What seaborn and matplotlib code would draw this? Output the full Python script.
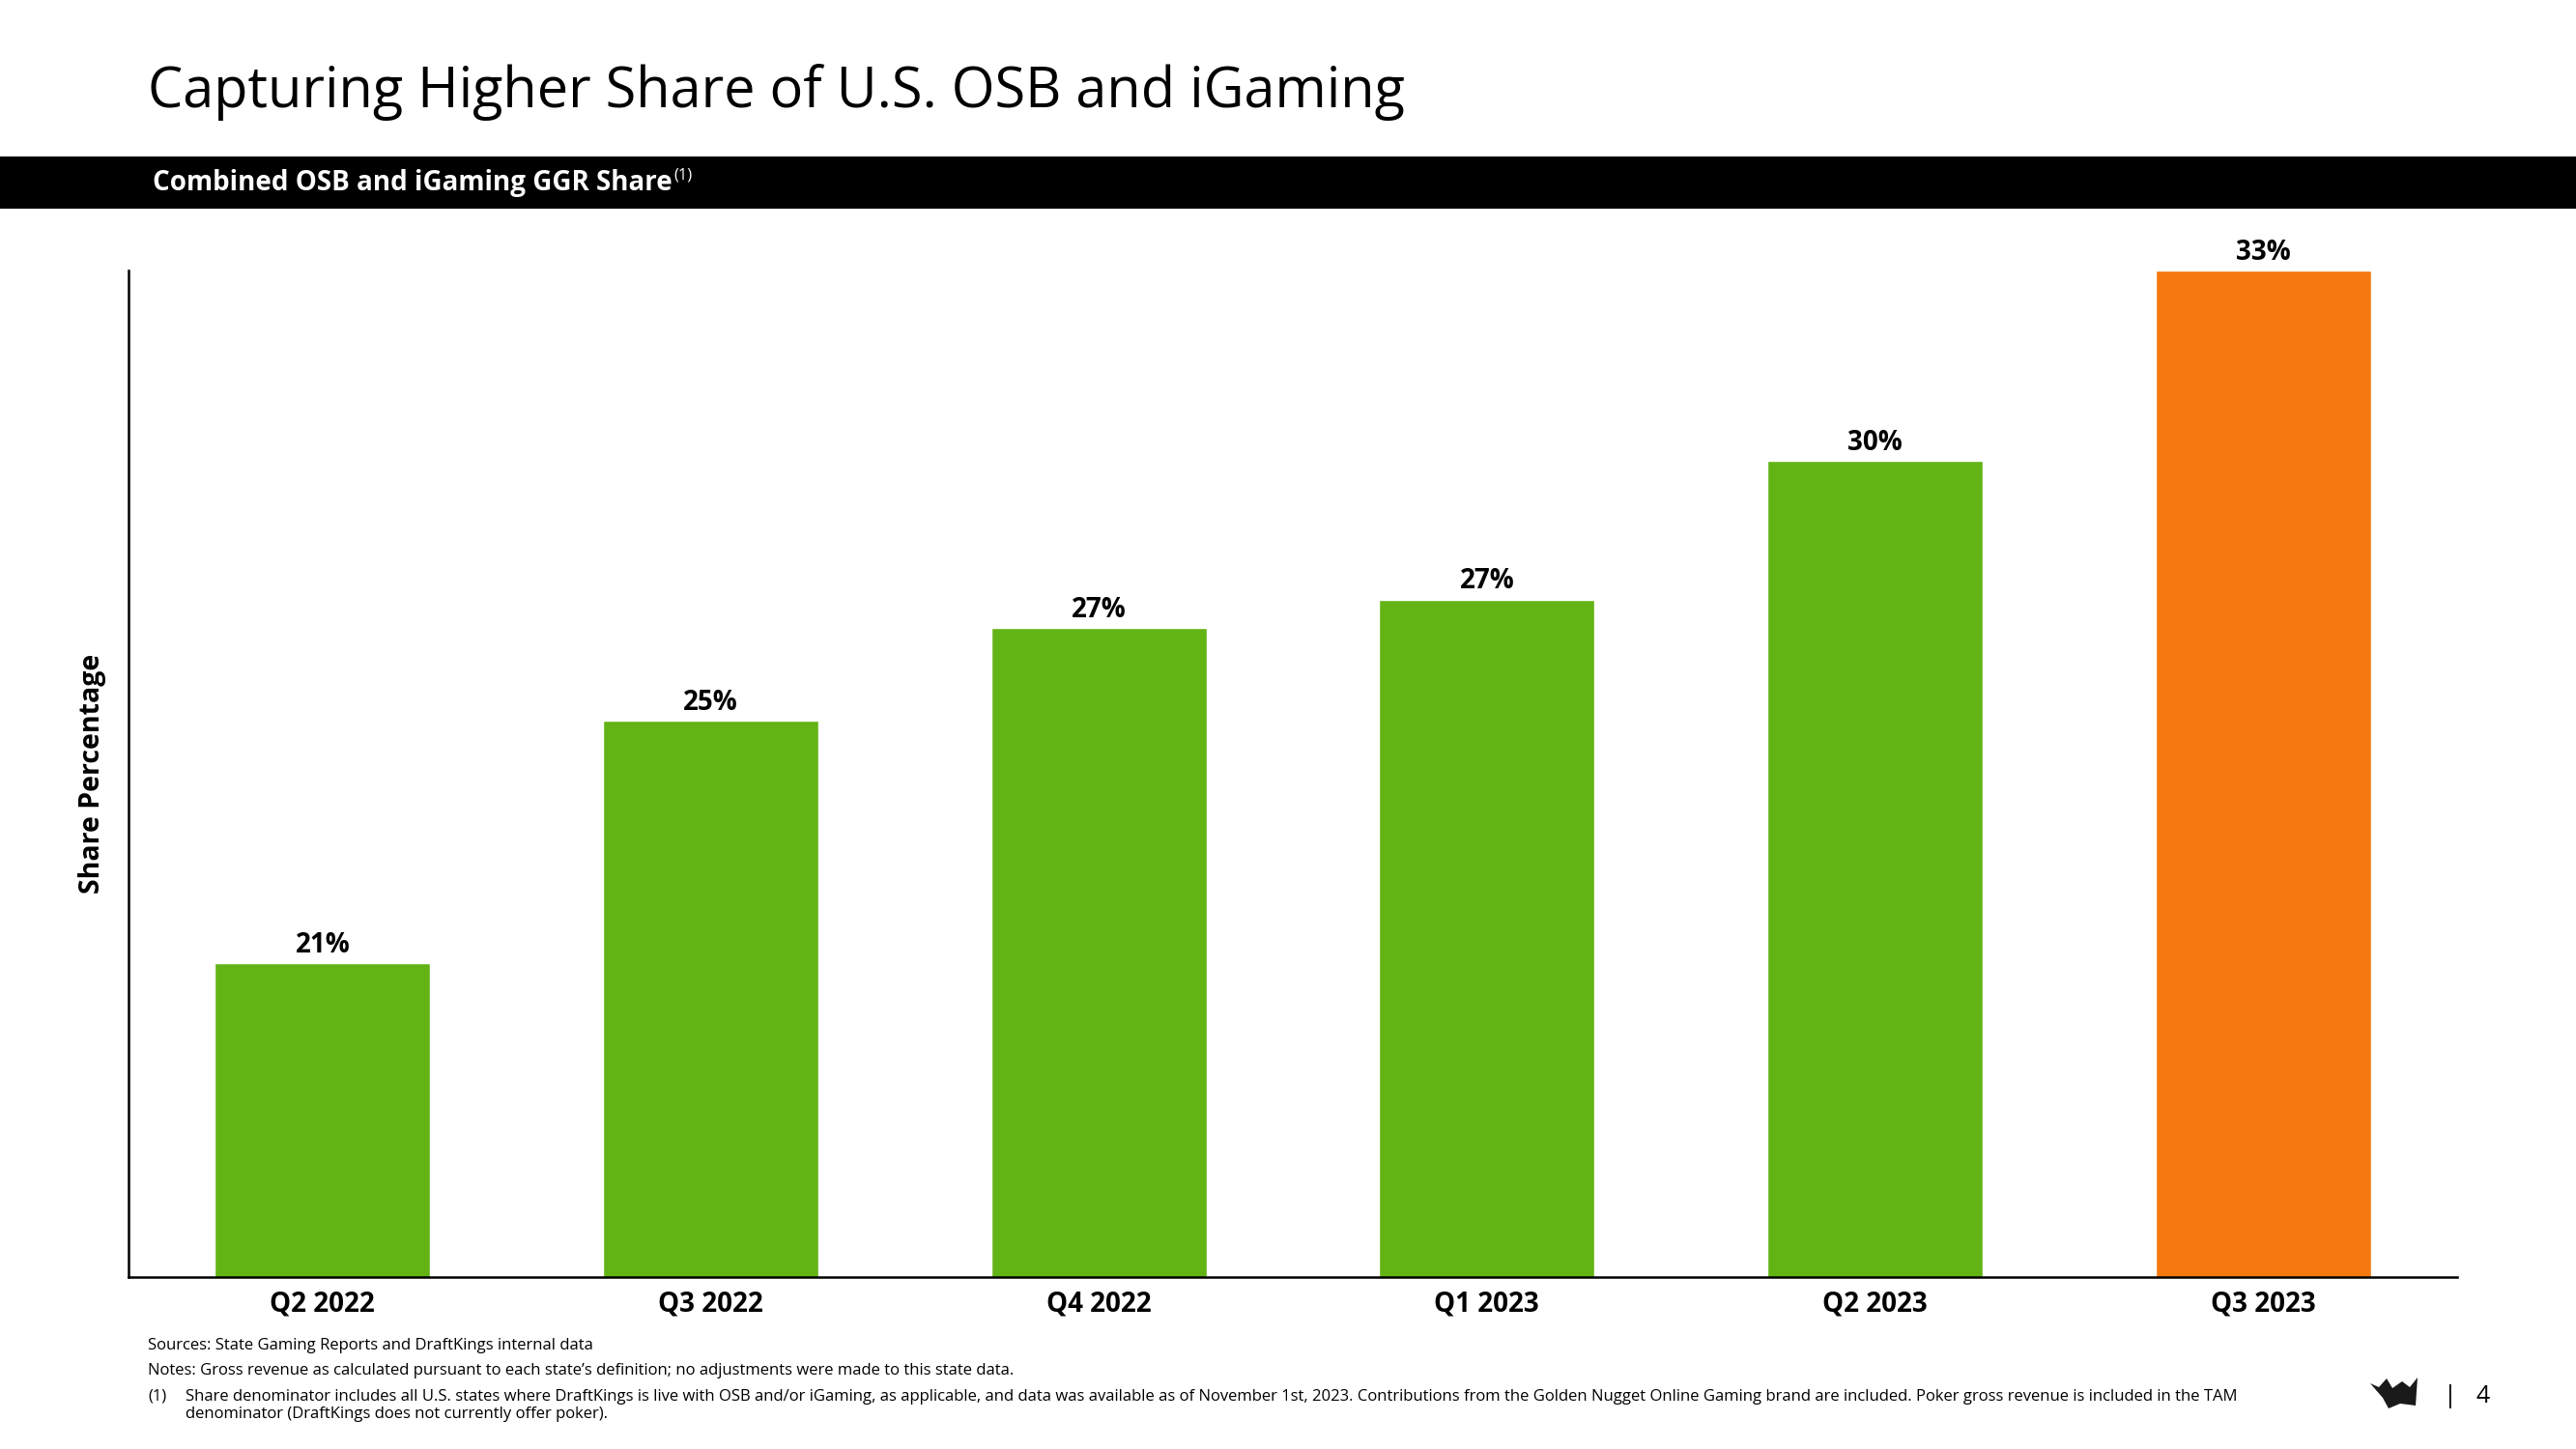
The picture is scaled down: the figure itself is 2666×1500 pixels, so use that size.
import matplotlib
matplotlib.use("Agg")
import matplotlib.pyplot as plt
import seaborn as sns
from matplotlib.patches import Rectangle, Polygon

# ---- data ----
categories = ["Q2 2022", "Q3 2022", "Q4 2022", "Q1 2023", "Q2 2023", "Q3 2023"]
share_values = [21.0, 25.2, 26.8, 27.3, 29.7, 33.0]
bar_colors = ["#62B415", "#62B415", "#62B415", "#62B415", "#62B415", "#F5790F"]

title_text = "Capturing Higher Share of U.S. OSB and iGaming"
band_text = "Combined OSB and iGaming GGR Share"
ylabel_text = "Share Percentage"
foot_sources = "Sources: State Gaming Reports and DraftKings internal data"
foot_notes = "Notes: Gross revenue as calculated pursuant to each state\u2019s definition; no adjustments were made to this state data."
foot_1a = ("Share denominator includes all U.S. states where DraftKings is live with OSB and/or iGaming, as applicable, "
           "and data was available as of November 1st, 2023. Contributions from the Golden Nugget Online Gaming brand "
           "are included. Poker gross revenue is included in the TAM")
foot_1b = "denominator (DraftKings does not currently offer poker)."

sns.set_theme(style="white")
plt.rcParams["font.family"] = ["Open Sans", "DejaVu Sans"]

W, H = 2666, 1500
fig = plt.figure(figsize=(W / 100, H / 100), dpi=100)
fig.patch.set_facecolor("white")

def fx(px):
    return px / W

def fy(py):
    return 1 - py / H

ax = fig.add_axes([fx(133), fy(1322), fx(2543 - 133), (1322 - 280) / H])

sns.barplot(x=categories, y=share_values, hue=categories, palette=bar_colors,
            legend=False, width=0.555, saturation=1, ax=ax)
ax.set_xlim(-0.5, 5.5)
ax.set_ylim(15.56, 33.0)

for cont in ax.containers:
    ax.bar_label(cont, labels=[f"{v:.0f}%" for v in cont.datavalues], padding=3,
                 fontsize=20, fontweight="bold", color="black", clip_on=False)

ax.set_yticks([])
ax.set_xlabel("")
ax.set_ylabel("")
ax.tick_params(axis="x", length=0, pad=10)
for lab in ax.get_xticklabels():
    lab.set_fontsize(20)
    lab.set_fontweight("bold")
    lab.set_color("black")
for s in ["top", "right"]:
    ax.spines[s].set_visible(False)
for s in ["left", "bottom"]:
    ax.spines[s].set_color("black")
    ax.spines[s].set_linewidth(1.8)

# title
fig.text(fx(153), fy(111), title_text, fontsize=41.5, color="black", va="baseline", ha="left")

# black band
fig.patches.append(Rectangle((0, fy(216)), 1, (216 - 162) / H, transform=fig.transFigure,
                             facecolor="black", edgecolor="none", zorder=0))
bt = fig.text(fx(158), fy(197), band_text, fontsize=20, fontweight="bold", color="white",
              va="baseline", ha="left")
fig.canvas.draw()
bb = bt.get_window_extent(renderer=fig.canvas.get_renderer())
fig.text(bb.x1 / W + fx(2), fy(185), "(1)", fontsize=12, color="white", va="baseline", ha="left")

# y label
fig.text(fx(96), fy(801), ylabel_text, fontsize=20.5, fontweight="bold", rotation=90,
         va="center", ha="center", color="black")

# footnotes
fs = 12
fig.text(fx(153), fy(1397), foot_sources, fontsize=fs, color="black", va="baseline")
fig.text(fx(153), fy(1423), foot_notes, fontsize=fs, color="black", va="baseline")
fig.text(fx(153), fy(1450), "(1)", fontsize=fs, color="black", va="baseline")
fig.text(fx(192), fy(1450), foot_1a, fontsize=fs, color="black", va="baseline")
fig.text(fx(192), fy(1468), foot_1b, fontsize=fs, color="black", va="baseline")

# page marker
fig.text(fx(2536), fy(1452), "|", fontsize=18, color="black", va="baseline", ha="center")
fig.text(fx(2570), fy(1452), "4", fontsize=18, color="black", va="baseline", ha="center")

# small crown logo
crown = [(2453, 1432), (2462, 1436), (2470, 1427), (2476, 1437), (2486, 1430),
         (2494, 1436), (2502, 1426), (2500, 1455), (2484, 1453), (2472, 1458),
         (2466, 1447)]
fig.patches.append(Polygon([(fx(x), fy(y)) for x, y in crown], closed=True,
                           transform=fig.transFigure, facecolor="#1a1a1a", edgecolor="none"))

fig.savefig("out.png", dpi=100, facecolor="white")
